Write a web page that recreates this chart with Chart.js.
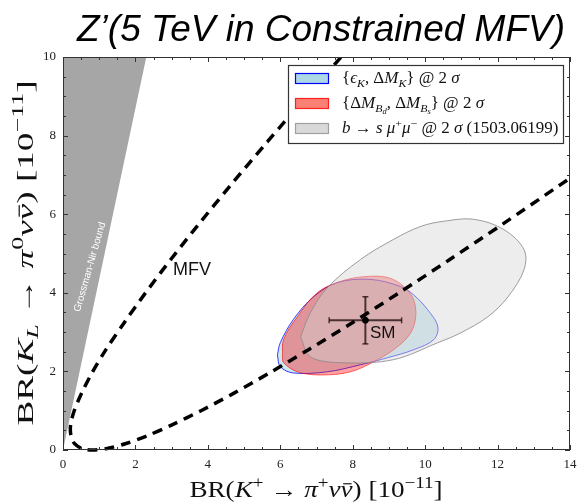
<!DOCTYPE html>
<html>
<head>
<meta charset="utf-8">
<script src="https://cdn.jsdelivr.net/npm/chart.js@4.4.1/dist/chart.umd.min.js"></script>
<style>
  html, body { margin: 0; padding: 0; background: #fff; }
  #wrap { width: 586px; height: 504px; position: relative; }
</style>
</head>
<body>
<div id="wrap"><canvas id="brChart"></canvas></div>
<script>
// Grossman-Nir excluded wedge, BR(KL) > 4.3 BR(K+)
const gnX = [0, 2.3, 0, 0];
const gnY = [0, 10, 10, 0];

// MFV curve, upper branch first, then lower branch
const mfvX = [7.67, 6.73, 5.64, 4.65, 3.76, 2.97, 2.28, 1.69, 1.19, 0.80, 0.51, 0.31, 0.21, 0.22, 0.32, 0.52,
              0.82, 1.22, 1.72, 2.32, 3.01, 3.81, 4.71, 5.70, 6.79, 7.99, 9.28, 10.67, 12.16, 13.75, 14.08];
const mfvY = [9.99, 9.00, 7.84, 6.76, 5.76, 4.84, 4.00, 3.24, 2.56, 1.96, 1.44, 1.00, 0.64, 0.36, 0.16, 0.04,
              0.00, 0.04, 0.16, 0.36, 0.64, 1.00, 1.44, 1.96, 2.56, 3.24, 4.00, 4.84, 5.76, 6.76, 6.97];

// 2 sigma regions
const epsKX = [5.92, 6.00, 6.36, 6.92, 7.58, 8.49, 9.32, 9.68, 10.07, 10.35, 10.24, 9.68, 8.97, 8.22, 7.30, 6.36, 6.00, 5.92];
const epsKY = [2.42, 2.73, 3.32, 3.90, 4.26, 4.34, 4.16, 3.95, 3.57, 3.14, 2.81, 2.55, 2.35, 2.17, 1.99, 1.96, 2.12, 2.42];
const dmBX = [6.06, 6.09, 6.47, 7.03, 7.66, 8.30, 8.97, 9.41, 9.68, 9.74, 9.60, 9.24, 8.69, 7.94, 7.11, 6.47, 6.09, 6.06];
const dmBY = [2.37, 2.81, 3.39, 4.01, 4.29, 4.41, 4.39, 4.16, 3.83, 3.39, 2.98, 2.63, 2.30, 1.99, 1.91, 1.99, 2.22, 2.37];
const bsmmX = [6.56, 6.83, 7.30, 8.22, 9.13, 9.88, 10.51, 11.34, 12.17, 12.73, 12.73, 12.29, 11.73, 10.98, 10.35, 9.13, 7.75, 6.83, 6.56];
const bsmmY = [2.88, 3.49, 4.13, 4.85, 5.36, 5.69, 5.82, 5.87, 5.61, 5.10, 4.59, 3.90, 3.39, 2.98, 2.73, 2.30, 2.22, 2.37, 2.88];

// Standard Model prediction
const smX = 8.35, smErrX = 1.0;
const smY = 3.3, smErrY = 0.6;

const xTicks = [0, 2, 4, 6, 8, 10, 12, 14];
const yTicks = [0, 2, 4, 6, 8, 10];

const pts = (xs, ys) => xs.map((x, i) => ({ x: x, y: ys[i] }));

const SERIF = '"Liberation Serif", "DejaVu Serif", serif';
const SANS = '"Liberation Sans", Arial, sans-serif';

// draws a row of text pieces (italics, sub/superscripts, overbars) starting at x or centred on x
function drawRuns(ctx, list, x, y, size, align, sx) {
  const fontOf = r => (r.it ? 'italic ' : '') + (size * (r.sc || 1)).toFixed(1) + 'px ' + SERIF;
  let w = 0;
  list.forEach(r => { ctx.font = fontOf(r); w += ctx.measureText(r.t).width; });
  ctx.save();
  ctx.translate(x, y);
  ctx.scale(sx || 1, 1);
  ctx.textAlign = 'left';
  ctx.textBaseline = 'alphabetic';
  let cx = align === 'center' ? -w / 2 : 0;
  list.forEach(r => {
    ctx.font = fontOf(r);
    const rw = ctx.measureText(r.t).width;
    ctx.fillText(r.t, cx, (r.sh || 0) * size);
    if (r.bar) {
      ctx.fillRect(cx + rw * 0.22, -size * 0.6, rw * 0.7, Math.max(1, size * 0.05));
    }
    cx += rw;
  });
  ctx.restore();
}

const sup = t => ({ t: t, sh: -0.4, sc: 0.7 });
const subI = t => ({ t: t, it: true, sh: 0.22, sc: 0.7 });

const xTitle = [{ t: 'BR(' }, { t: 'K', it: true }, sup('+'), { t: ' \u2192 ' }, { t: '\u03c0', it: true }, sup('+'),
  { t: '\u03bd', it: true }, { t: '\u03bd', it: true, bar: true }, { t: ') [10' }, sup('\u221211'), { t: ']' }];
const yTitle = [{ t: 'BR(' }, { t: 'K', it: true }, subI('L'), { t: ' \u2192 ' }, { t: '\u03c0', it: true }, sup('0'),
  { t: '\u03bd', it: true }, { t: '\u03bd', it: true, bar: true }, { t: ') [10' }, sup('\u221211'), { t: ']' }];

const legendRows = [
  { fill: '#add8e6', edge: '#0000ff', text: [{ t: '{' }, { t: '\u03f5', it: true }, subI('K'), { t: ', \u0394' }, { t: 'M', it: true }, subI('K'),
    { t: '} @ 2 ' }, { t: '\u03c3', it: true }] },
  { fill: '#f98074', edge: '#ff2020', text: [{ t: '{\u0394' }, { t: 'M', it: true }, subI('B'), { t: 'd', it: true, sh: 0.38, sc: 0.5 },
    { t: ', \u0394' }, { t: 'M', it: true }, subI('B'), { t: 's', it: true, sh: 0.38, sc: 0.5 }, { t: '} @ 2 ' }, { t: '\u03c3', it: true }] },
  { fill: '#d9d9d9', edge: '#a0a0a0', text: [{ t: 'b', it: true }, { t: ' \u2192 ' }, { t: 's ', it: true }, { t: '\u03bc', it: true }, sup('+'),
    { t: '\u03bc', it: true }, sup('\u2212'), { t: ' @ 2 ' }, { t: '\u03c3', it: true }, { t: ' (1503.06199)' }] }
];

const decor = {
  id: 'decor',
  afterDatasetsDraw(chart) {
    const ctx = chart.ctx;
    const a = chart.chartArea;
    const xs = chart.scales.x, ys = chart.scales.y;

    // labels inside the plot
    ctx.save();
    ctx.fillStyle = '#111';
    ctx.font = '18px ' + SANS;
    ctx.textBaseline = 'alphabetic';
    ctx.fillText('MFV', 173, 275);
    ctx.font = '17px ' + SANS;
    ctx.fillText('SM', 370, 338);
    ctx.translate(90, 267);
    ctx.rotate(-74 * Math.PI / 180);
    ctx.fillStyle = '#fff';
    ctx.font = '10px ' + SANS;
    ctx.textAlign = 'center';
    ctx.textBaseline = 'middle';
    ctx.fillText('Grossman-Nir bound', 0, 0);
    ctx.restore();

    // frame and inward ticks
    ctx.save();
    ctx.strokeStyle = '#333';
    ctx.lineWidth = 1;
    ctx.strokeRect(a.left + 0.5, a.top + 0.5, a.right - a.left - 1, a.bottom - a.top - 1);
    ctx.beginPath();
    for (let v = 0; v <= 14; v += 0.5) {
      const p = Math.round(xs.getPixelForValue(v)) + 0.5;
      const len = v % 2 === 0 ? 5 : 3;
      ctx.moveTo(p, a.bottom); ctx.lineTo(p, a.bottom - len);
      ctx.moveTo(p, a.top); ctx.lineTo(p, a.top + len);
    }
    for (let v = 0; v <= 10; v += 0.5) {
      const p = Math.round(ys.getPixelForValue(v)) + 0.5;
      const len = v % 2 === 0 ? 5 : 3;
      ctx.moveTo(a.left, p); ctx.lineTo(a.left + len, p);
      ctx.moveTo(a.right, p); ctx.lineTo(a.right - len, p);
    }
    ctx.stroke();
    ctx.restore();

    // legend box
    ctx.save();
    const bx = 288, by = 65, bw = 275, bh = 78;
    ctx.fillStyle = '#fff';
    ctx.fillRect(bx, by, bw, bh);
    ctx.strokeStyle = '#333';
    ctx.lineWidth = 1.2;
    ctx.strokeRect(bx + 0.5, by + 0.5, bw, bh);
    legendRows.forEach((row, i) => {
      const cy = 78 + i * 25;
      ctx.fillStyle = row.fill;
      ctx.fillRect(295, cy - 5, 33, 10);
      ctx.strokeStyle = row.edge;
      ctx.lineWidth = 1.2;
      ctx.strokeRect(295.5, cy - 4.5, 33, 10);
      ctx.fillStyle = '#111';
      drawRuns(ctx, row.text, 342, cy + 5, 16, 'left', 1.06);
    });
    ctx.restore();
  },
  afterDraw(chart) {
    const ctx = chart.ctx;
    ctx.save();
    ctx.fillStyle = '#000';
    ctx.font = 'italic 37px ' + SANS;
    ctx.textAlign = 'center';
    ctx.textBaseline = 'alphabetic';
    ctx.fillText('Z\u2019(5 TeV in Constrained MFV)', 321, 41);
    ctx.fillStyle = '#111';
    drawRuns(ctx, xTitle, 316, 497, 23, 'center', 1.18);
    ctx.translate(33, 253);
    ctx.rotate(-Math.PI / 2);
    drawRuns(ctx, yTitle, 0, 0, 24, 'center', 1.55);
    ctx.restore();
  }
};

const ctx = document.getElementById('brChart').getContext('2d');

new Chart(ctx, {
  type: 'scatter',
  data: {
    datasets: [
      {
        label: 'SM',
        data: [{ x: smX, y: smY }],
        pointRadius: 3,
        pointBackgroundColor: '#000',
        pointBorderColor: '#000',
        order: 0
      },
      {
        label: 'SM error x',
        data: [{ x: smX - smErrX, y: smY }, { x: smX + smErrX, y: smY }],
        showLine: true,
        borderColor: 'rgba(20,0,0,0.72)',
        borderWidth: 2,
        pointStyle: 'line',
        rotation: 90,
        pointRadius: 3,
        pointBorderWidth: 1.5,
        pointBorderColor: 'rgba(20,0,0,0.72)',
        order: 1
      },
      {
        label: 'SM error y',
        data: [{ x: smX, y: smY - smErrY }, { x: smX, y: smY + smErrY }],
        showLine: true,
        borderColor: 'rgba(20,0,0,0.72)',
        borderWidth: 2,
        pointStyle: 'line',
        pointRadius: 3,
        pointBorderWidth: 1.5,
        pointBorderColor: 'rgba(20,0,0,0.72)',
        order: 1
      },
      {
        label: 'MFV',
        data: pts(mfvX, mfvY),
        showLine: true,
        borderColor: '#000',
        borderWidth: 3.5,
        borderDash: [10, 7],
        tension: 0.3,
        pointRadius: 0,
        clip: { left: 4, top: 0, right: 0, bottom: 3 },
        order: 2
      },
      {
        label: 'b -> s mu mu',
        data: pts(bsmmX, bsmmY),
        showLine: true,
        fill: 'shape',
        backgroundColor: 'rgba(211,211,211,0.42)',
        borderColor: 'rgba(140,140,140,0.85)',
        borderWidth: 1,
        tension: 0.35,
        pointRadius: 0,
        order: 3
      },
      {
        label: 'dMBd, dMBs',
        data: pts(dmBX, dmBY),
        showLine: true,
        fill: 'shape',
        backgroundColor: 'rgba(255,0,0,0.36)',
        borderColor: 'rgba(255,0,0,0.6)',
        borderWidth: 1,
        tension: 0.35,
        pointRadius: 0,
        order: 4
      },
      {
        label: 'epsK, dMK',
        data: pts(epsKX, epsKY),
        showLine: true,
        fill: 'shape',
        backgroundColor: 'rgba(173,216,230,0.6)',
        borderColor: 'rgba(0,0,255,0.75)',
        borderWidth: 1,
        tension: 0.35,
        pointRadius: 0,
        order: 5
      },
      {
        label: 'Grossman-Nir',
        data: pts(gnX, gnY),
        showLine: true,
        fill: 'shape',
        backgroundColor: '#a6a6a6',
        borderWidth: 0,
        borderColor: 'rgba(0,0,0,0)',
        pointRadius: 0,
        tension: 0,
        order: 6
      }
    ]
  },
  options: {
    responsive: true,
    maintainAspectRatio: false,
    animation: false,
    events: [],
    layout: { padding: { top: 57, right: 16, left: 0, bottom: 0 } },
    plugins: {
      legend: { display: false },
      tooltip: { enabled: false },
      title: { display: false }
    },
    scales: {
      x: {
        type: 'linear',
        min: 0,
        max: 14,
        afterBuildTicks: s => { s.ticks = xTicks.map(v => ({ value: v })); },
        afterFit: s => { s.height = 54; },
        grid: { display: false, drawTicks: false },
        border: { display: false },
        ticks: { font: { family: SERIF, size: 13 }, color: '#222', padding: 7, maxRotation: 0 }
      },
      y: {
        type: 'linear',
        min: 0,
        max: 10,
        afterBuildTicks: s => { s.ticks = yTicks.map(v => ({ value: v })); },
        afterFit: s => { s.width = 63; },
        grid: { display: false, drawTicks: false },
        border: { display: false },
        ticks: { font: { family: SERIF, size: 13 }, color: '#222', padding: 7 }
      }
    }
  },
  plugins: [decor]
});
</script>
</body>
</html>
